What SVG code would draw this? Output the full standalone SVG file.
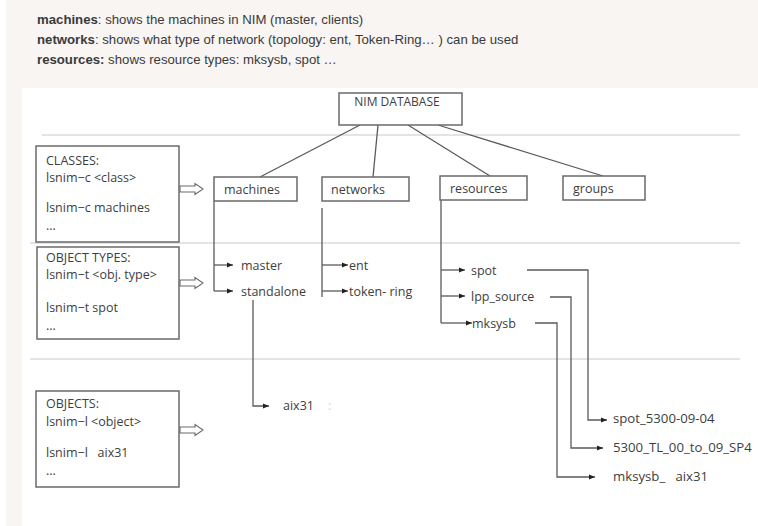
<svg xmlns="http://www.w3.org/2000/svg" width="758" height="526" viewBox="0 0 758 526">
<defs>
<style>
.hdr{font-family:"Liberation Sans",Arial,sans-serif;font-size:13.2px;fill:#3a3a3a}
.hdr .b{font-weight:bold}
.t{font-family:"Open Sans","Noto Sans",sans-serif;font-size:12.5px;fill:#3e3e3e}
.r{font-size:13.2px}
.box{fill:#fff;stroke:#6a6a6a;stroke-width:1.5}
.sep{stroke:#e4e4e4;stroke-width:2}
.ln{fill:none;stroke:#5a5a5a;stroke-width:1.3}
.ar{fill:none;stroke:#5a5a5a;stroke-width:1.3;marker-end:url(#ah)}
.dbl{fill:#fff;stroke:#6a6a6a;stroke-width:1.1}
</style>
<marker id="ah" viewBox="0 0 10 10" refX="10" refY="5" markerWidth="6" markerHeight="6" markerUnits="userSpaceOnUse" orient="auto">
<path d="M0,1 L10,5 L0,9 z" fill="#222"/>
</marker>
<path id="dblarrow" d="M0,-3 H15 V-5.5 L23,0 L15,5.5 V3 H0 z"/>
</defs>
<rect width="758" height="526" fill="#fff"/>
<rect x="6" y="0" width="752" height="526" fill="#f8f5f3"/>
<rect x="22" y="88" width="736" height="438" fill="#fff"/>
<g id="header" class="hdr">
<text x="37" y="24"><tspan class="b">machines</tspan>: shows the machines in NIM (master, clients)</text>
<text x="37" y="44"><tspan class="b">networks</tspan>: shows what type of network (topology: ent, Token-Ring… ) can be used</text>
<text x="37" y="64"><tspan class="b">resources:</tspan> shows resource types: mksysb, spot …</text>
</g>
<g id="separators">
<line class="sep" x1="42" y1="135" x2="740" y2="135"/>
<line class="sep" x1="30" y1="243" x2="740" y2="243"/>
<line class="sep" x1="30" y1="359" x2="740" y2="359"/>
</g>
<g id="connectors">
<line class="ln" x1="360" y1="125" x2="260" y2="177"/>
<line class="ln" x1="378" y1="125" x2="373" y2="177"/>
<line class="ln" x1="408" y1="125" x2="490" y2="176"/>
<line class="ln" x1="438" y1="125" x2="603" y2="176"/>
<polyline class="ln" points="214,201 214,291"/>
<line class="ar" x1="214" y1="265" x2="233" y2="265"/>
<line class="ar" x1="214" y1="291" x2="233" y2="291"/>
<polyline class="ln" points="322,208 322,297"/>
<line class="ar" x1="322" y1="265" x2="348" y2="265"/>
<line class="ar" x1="322" y1="291" x2="348" y2="291"/>
<polyline class="ar" points="253,300 253,406 269,406"/>
<polyline class="ln" points="441,200 441,323"/>
<line class="ar" x1="441" y1="270" x2="465" y2="270"/>
<line class="ar" x1="441" y1="296" x2="465" y2="296"/>
<line class="ar" x1="441" y1="323" x2="472" y2="323"/>
<polyline class="ar" points="527,270 588,270 588,420 607,420"/>
<polyline class="ar" points="550,297 571,297 571,448 603,448"/>
<polyline class="ar" points="535,323 557,323 557,477 595,477"/>
<use href="#dblarrow" class="dbl" x="180" y="189"/>
<use href="#dblarrow" class="dbl" x="180" y="283"/>
<use href="#dblarrow" class="dbl" x="180" y="430"/>
</g>
<g id="nim-database">
<rect class="box" x="339" y="93" width="123" height="32"/>
<text class="t" x="397" y="106" text-anchor="middle" style="font-size:12px">NIM DATABASE</text>
</g>
<g id="classes">
<rect class="box" x="36" y="146" width="143" height="96"/>
<text class="t" x="46" y="165">CLASSES:</text>
<text class="t" x="46" y="182">lsnim−c &lt;class&gt;</text>
<text class="t" x="46" y="212">lsnim−c machines</text>
<text class="t" x="46" y="230">...</text>
</g>
<g id="object-types">
<rect class="box" x="37" y="247" width="142" height="92"/>
<text class="t" x="46" y="262">OBJECT TYPES:</text>
<text class="t" x="46" y="279">lsnim−t &lt;obj. type&gt;</text>
<text class="t" x="46" y="312">lsnim−t spot</text>
<text class="t" x="46" y="330">...</text>
</g>
<g id="objects">
<rect class="box" x="36" y="391" width="143" height="96"/>
<text class="t" x="46" y="408">OBJECTS:</text>
<text class="t" x="46" y="426">lsnim−l &lt;object&gt;</text>
<text class="t" x="46" y="457" xml:space="preserve">lsnim−l   aix31</text>
<text class="t" x="46" y="475">...</text>
</g>
<g id="machines">
<rect class="box" x="214" y="177" width="83" height="24"/>
<text class="t" x="224" y="193.5">machines</text>
</g>
<g id="networks">
<rect class="box" x="322" y="177" width="87" height="24"/>
<text class="t" x="331" y="193.5">networks</text>
</g>
<g id="resources">
<rect class="box" x="440" y="176" width="87" height="24"/>
<text class="t" x="450" y="192.5">resources</text>
</g>
<g id="groups">
<rect class="box" x="563" y="176" width="82" height="24"/>
<text class="t" x="573" y="192.5">groups</text>
</g>
<g id="master"><text class="t" x="241" y="269.5">master</text></g>
<g id="standalone"><text class="t" x="241" y="295.5">standalone</text></g>
<g id="ent"><text class="t" x="349" y="269.5">ent</text></g>
<g id="token-ring"><text class="t" x="349" y="295.5">token- ring</text></g>
<g id="aix31"><text class="t" x="283" y="410">aix31</text><text class="t" x="328" y="410" style="fill:#d4d4d4">:</text></g>
<g id="spot"><text class="t" x="471" y="274.5">spot</text></g>
<g id="lpp_source"><text class="t" x="471" y="300.5">lpp_source</text></g>
<g id="mksysb"><text class="t" x="472" y="327.5">mksysb</text></g>
<g id="spot_obj"><text class="t r" x="613" y="423">spot_5300-09-04</text></g>
<g id="lpp_obj"><text class="t r" x="613" y="452">5300_TL_00_to_09_SP4</text></g>
<g id="mksysb_obj"><text class="t r" x="613" y="481" xml:space="preserve">mksysb_   aix31</text></g>
</svg>
